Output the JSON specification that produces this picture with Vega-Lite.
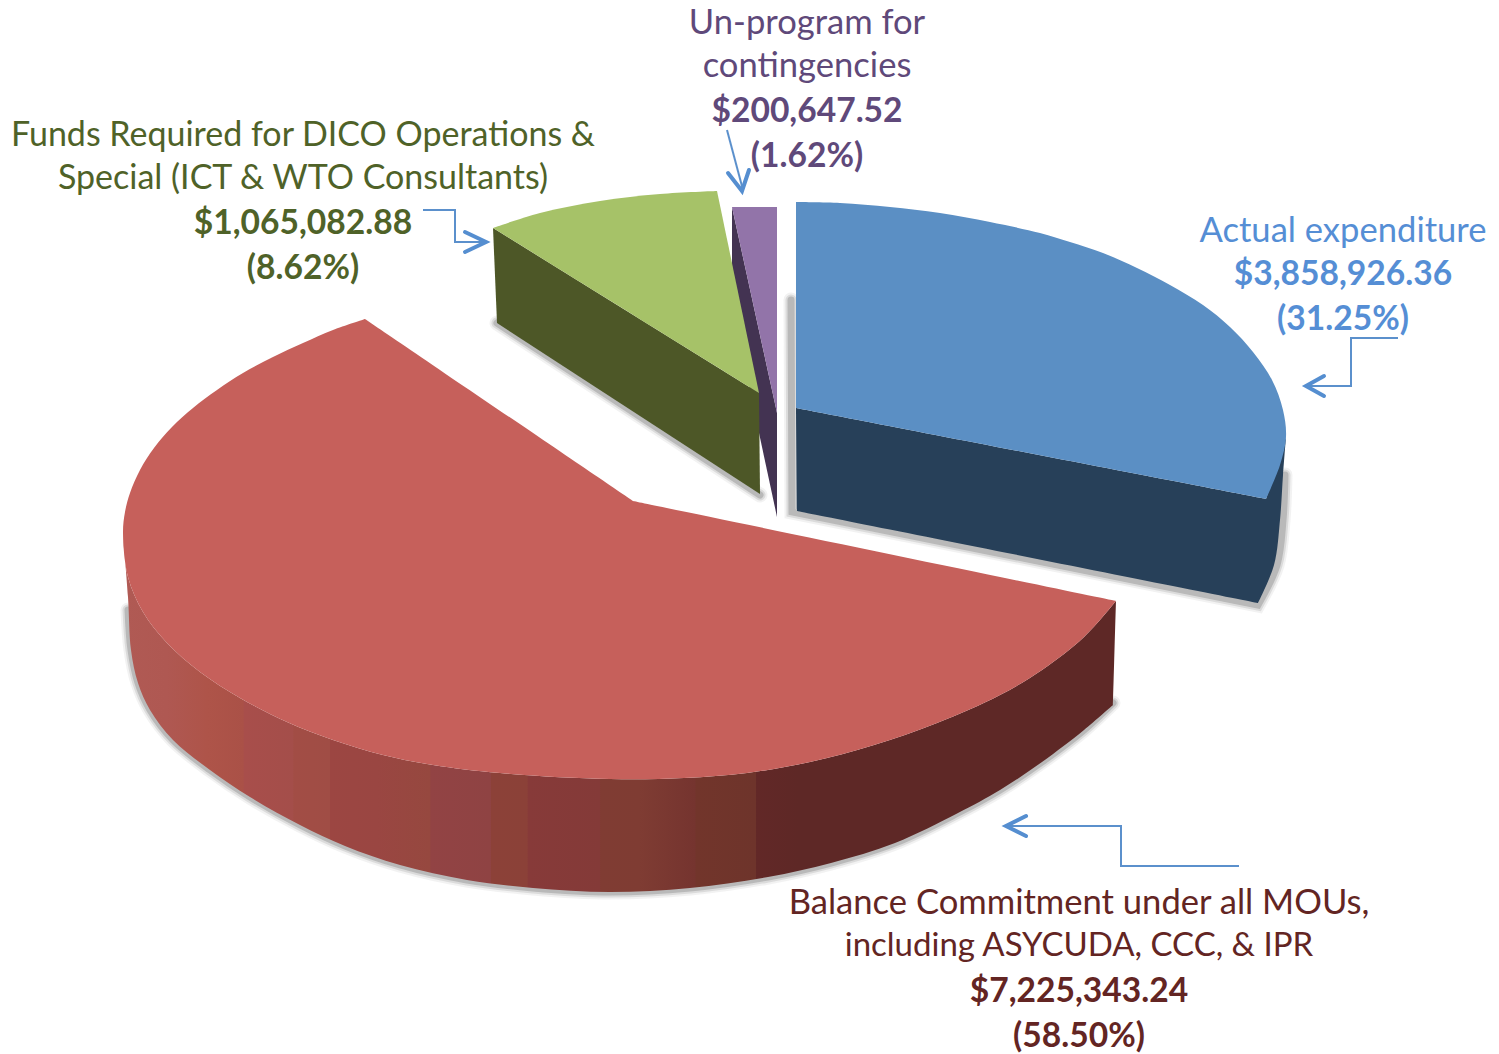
{"$schema":"https://vega.github.io/schema/vega-lite/v6.json","width":1499,"height":1054,"padding":0,"autosize":{"type":"fit","contains":"padding"},"background":"white","view":{"stroke":null},
"datasets":{
"shadow":[
{"path":"red","i":0,"x":128,"y":610},{"path":"red","i":1,"x":131,"y":650},{"path":"red","i":2,"x":138,"y":683},{"path":"red","i":3,"x":150,"y":710},{"path":"red","i":4,"x":173,"y":740},{"path":"red","i":5,"x":210,"y":770},{"path":"red","i":6,"x":250,"y":797},{"path":"red","i":7,"x":300,"y":825},{"path":"red","i":8,"x":345,"y":846},{"path":"red","i":9,"x":400,"y":865},{"path":"red","i":10,"x":467,"y":880},{"path":"red","i":11,"x":533,"y":888},{"path":"red","i":12,"x":610,"y":892},{"path":"red","i":13,"x":690,"y":888},{"path":"red","i":14,"x":768,"y":877},{"path":"red","i":15,"x":831,"y":863},{"path":"red","i":16,"x":895,"y":843},{"path":"red","i":17,"x":958,"y":813},{"path":"red","i":18,"x":1000,"y":790},{"path":"red","i":19,"x":1042,"y":762},{"path":"red","i":20,"x":1084,"y":730},{"path":"red","i":21,"x":1113,"y":703},
{"path":"blue","i":0,"x":791,"y":300},{"path":"blue","i":1,"x":792,"y":512},{"path":"blue","i":2,"x":792,"y":512},{"path":"blue","i":3,"x":1258,"y":605},{"path":"blue","i":4,"x":1258,"y":605},{"path":"blue","i":5,"x":1277,"y":565},{"path":"blue","i":6,"x":1283,"y":520},{"path":"blue","i":7,"x":1285,"y":475},
{"path":"green","i":0,"x":497,"y":323},{"path":"green","i":1,"x":760,"y":495}
],
"flatFaces":[
{"part":"Purple side","i":0,"x":732,"y":207},{"part":"Purple side","i":1,"x":777,"y":413},{"part":"Purple side","i":2,"x":777,"y":517},{"part":"Purple side","i":3,"x":732,"y":307},
{"part":"Purple top","i":0,"x":732,"y":207},{"part":"Purple top","i":1,"x":777,"y":207},{"part":"Purple top","i":2,"x":777,"y":413},
{"part":"Green side","i":0,"x":493,"y":228},{"part":"Green side","i":1,"x":759,"y":393},{"part":"Green side","i":2,"x":760,"y":494},{"part":"Green side","i":3,"x":497,"y":323}
],
"faces":[
{"part":"Red top","i":0,"x":633,"y":501},{"part":"Red top","i":1,"x":633,"y":501},{"part":"Red top","i":2,"x":1116,"y":601},{"part":"Red top","i":3,"x":1116,"y":601},{"part":"Red top","i":4,"x":1084,"y":637},{"part":"Red top","i":5,"x":1042,"y":670},{"part":"Red top","i":6,"x":1000,"y":695},{"part":"Red top","i":7,"x":937,"y":723},{"part":"Red top","i":8,"x":874,"y":745},{"part":"Red top","i":9,"x":810,"y":762},{"part":"Red top","i":10,"x":747,"y":773},{"part":"Red top","i":11,"x":684,"y":778},{"part":"Red top","i":12,"x":610,"y":779},{"part":"Red top","i":13,"x":500,"y":773},{"part":"Red top","i":14,"x":433,"y":765},{"part":"Red top","i":15,"x":383,"y":755},{"part":"Red top","i":16,"x":333,"y":740},{"part":"Red top","i":17,"x":287,"y":722},{"part":"Red top","i":18,"x":240,"y":698},{"part":"Red top","i":19,"x":200,"y":672},{"part":"Red top","i":20,"x":167,"y":643},{"part":"Red top","i":21,"x":143,"y":612},{"part":"Red top","i":22,"x":128,"y":577},{"part":"Red top","i":23,"x":123,"y":533},{"part":"Red top","i":24,"x":125,"y":512},{"part":"Red top","i":25,"x":130,"y":493},{"part":"Red top","i":26,"x":140,"y":470},{"part":"Red top","i":27,"x":154,"y":448},{"part":"Red top","i":28,"x":172,"y":427},{"part":"Red top","i":29,"x":193,"y":408},{"part":"Red top","i":30,"x":217,"y":390},{"part":"Red top","i":31,"x":243,"y":373},{"part":"Red top","i":32,"x":273,"y":357},{"part":"Red top","i":33,"x":303,"y":343},{"part":"Red top","i":34,"x":333,"y":330},{"part":"Red top","i":35,"x":365,"y":319},{"part":"Red top","i":36,"x":365,"y":319},{"part":"Red top","i":37,"x":633,"y":501},
{"part":"Green top","i":0,"x":493,"y":228},{"part":"Green top","i":1,"x":493,"y":228},{"part":"Green top","i":2,"x":540,"y":213},{"part":"Green top","i":3,"x":600,"y":201},{"part":"Green top","i":4,"x":660,"y":194},{"part":"Green top","i":5,"x":717,"y":191},{"part":"Green top","i":6,"x":717,"y":191},{"part":"Green top","i":7,"x":759,"y":393},{"part":"Green top","i":8,"x":759,"y":393},{"part":"Green top","i":9,"x":493,"y":228},
{"part":"Blue side","i":0,"x":796,"y":408},{"part":"Blue side","i":1,"x":796,"y":408},{"part":"Blue side","i":2,"x":1266,"y":499},{"part":"Blue side","i":3,"x":1266,"y":499},{"part":"Blue side","i":4,"x":1286,"y":437},{"part":"Blue side","i":5,"x":1286,"y":437},{"part":"Blue side","i":6,"x":1283,"y":475},{"part":"Blue side","i":7,"x":1280,"y":520},{"part":"Blue side","i":8,"x":1274,"y":565},{"part":"Blue side","i":9,"x":1258,"y":603},{"part":"Blue side","i":10,"x":1258,"y":603},{"part":"Blue side","i":11,"x":797,"y":511},{"part":"Blue side","i":12,"x":797,"y":511},{"part":"Blue side","i":13,"x":796,"y":408},
{"part":"Blue top","i":0,"x":796,"y":202},{"part":"Blue top","i":1,"x":796,"y":202},{"part":"Blue top","i":2,"x":840,"y":203},{"part":"Blue top","i":3,"x":890,"y":207},{"part":"Blue top","i":4,"x":940,"y":213},{"part":"Blue top","i":5,"x":990,"y":222},{"part":"Blue top","i":6,"x":1040,"y":233},{"part":"Blue top","i":7,"x":1070,"y":242},{"part":"Blue top","i":8,"x":1103,"y":253},{"part":"Blue top","i":9,"x":1137,"y":268},{"part":"Blue top","i":10,"x":1170,"y":285},{"part":"Blue top","i":11,"x":1203,"y":305},{"part":"Blue top","i":12,"x":1230,"y":327},{"part":"Blue top","i":13,"x":1253,"y":352},{"part":"Blue top","i":14,"x":1272,"y":380},{"part":"Blue top","i":15,"x":1283,"y":410},{"part":"Blue top","i":16,"x":1286,"y":437},{"part":"Blue top","i":17,"x":1280,"y":465},{"part":"Blue top","i":18,"x":1266,"y":499},{"part":"Blue top","i":19,"x":1266,"y":499},{"part":"Blue top","i":20,"x":796,"y":408},{"part":"Blue top","i":21,"x":796,"y":408},{"part":"Blue top","i":22,"x":796,"y":202}
],
"redSide":[
{"i":0,"x":123,"y":533},{"i":1,"x":123,"y":533},{"i":2,"x":128,"y":577},{"i":3,"x":143,"y":612},{"i":4,"x":167,"y":643},{"i":5,"x":200,"y":672},{"i":6,"x":240,"y":698},{"i":7,"x":287,"y":722},{"i":8,"x":333,"y":740},{"i":9,"x":383,"y":755},{"i":10,"x":433,"y":765},{"i":11,"x":500,"y":773},{"i":12,"x":610,"y":779},{"i":13,"x":684,"y":778},{"i":14,"x":747,"y":773},{"i":15,"x":810,"y":762},{"i":16,"x":874,"y":745},{"i":17,"x":937,"y":723},{"i":18,"x":1000,"y":695},{"i":19,"x":1042,"y":670},{"i":20,"x":1084,"y":637},{"i":21,"x":1116,"y":601},{"i":22,"x":1116,"y":601},{"i":23,"x":1113,"y":705},{"i":24,"x":1113,"y":705},{"i":25,"x":1084,"y":730},{"i":26,"x":1042,"y":762},{"i":27,"x":1000,"y":790},{"i":28,"x":958,"y":813},{"i":29,"x":895,"y":843},{"i":30,"x":831,"y":863},{"i":31,"x":768,"y":877},{"i":32,"x":690,"y":888},{"i":33,"x":610,"y":892},{"i":34,"x":533,"y":888},{"i":35,"x":467,"y":880},{"i":36,"x":400,"y":865},{"i":37,"x":345,"y":846},{"i":38,"x":300,"y":825},{"i":39,"x":250,"y":797},{"i":40,"x":210,"y":770},{"i":41,"x":173,"y":740},{"i":42,"x":150,"y":710},{"i":43,"x":138,"y":683},{"i":44,"x":131,"y":650},{"i":45,"x":128,"y":597},{"i":46,"x":123,"y":533}
],
"arrows":[
{"path":"p","i":0,"x":727,"y":130},{"path":"p","i":1,"x":743,"y":190},
{"path":"g","i":0,"x":423,"y":210},{"path":"g","i":1,"x":455,"y":210},{"path":"g","i":2,"x":455,"y":242},{"path":"g","i":3,"x":483,"y":242},
{"path":"b","i":0,"x":1398,"y":338},{"path":"b","i":1,"x":1351,"y":338},{"path":"b","i":2,"x":1351,"y":386},{"path":"b","i":3,"x":1308,"y":386},
{"path":"r","i":0,"x":1239,"y":866},{"path":"r","i":1,"x":1121,"y":866},{"path":"r","i":2,"x":1121,"y":826},{"path":"r","i":3,"x":1007,"y":826}
],
"heads":[
{"path":"p","i":0,"x":728,"y":173},{"path":"p","i":1,"x":742,"y":191},{"path":"p","i":2,"x":749,"y":170},
{"path":"g","i":0,"x":465,"y":232},{"path":"g","i":1,"x":486,"y":242},{"path":"g","i":2,"x":465,"y":252},
{"path":"b","i":0,"x":1324,"y":376},{"path":"b","i":1,"x":1306,"y":386},{"path":"b","i":2,"x":1324,"y":396},
{"path":"r","i":0,"x":1026,"y":816},{"path":"r","i":1,"x":1006,"y":826},{"path":"r","i":2,"x":1026,"y":836}
],
"regular":[
{"series":"Purple","x":807,"y":33.5,"label":"Un-program for"},{"series":"Purple","x":807,"y":76.5,"label":"contingencies"},
{"series":"Blue","x":1343,"y":241.5,"label":"Actual expenditure"},
{"series":"Red","x":1079,"y":913.5,"label":"Balance Commitment under all MOUs,"}
],
"regularMid":[
{"series":"Green","x":303,"y":145.5,"label":"Funds Required for DICO Operations &"},{"series":"Green","x":303,"y":188.5,"label":"Special (ICT & WTO Consultants)"}
],
"regularSmall":[
{"series":"Red","x":1079,"y":956,"label":"including ASYCUDA, CCC, & IPR"}
],
"bold":[
{"series":"Purple","x":807,"y":122,"label":"$200,647.52"},{"series":"Purple","x":807,"y":167,"label":"(1.62%)"},
{"series":"Green","x":303,"y":234,"label":"$1,065,082.88"},{"series":"Green","x":303,"y":279,"label":"(8.62%)"},
{"series":"Blue","x":1343,"y":285,"label":"$3,858,926.36"},{"series":"Blue","x":1343,"y":330,"label":"(31.25%)"},
{"series":"Red","x":1079,"y":1002,"label":"$7,225,343.24"},{"series":"Red","x":1079,"y":1047,"label":"(58.50%)"}
]},
"encoding":{
"x":{"field":"x","type":"quantitative","axis":null,"scale":{"domain":[0,1499],"nice":false,"zero":false}},
"y":{"field":"y","type":"quantitative","axis":null,"scale":{"domain":[1054,0],"nice":false,"zero":false}}
},
"layer":[
{"data":{"name":"shadow"},"mark":{"type":"line","interpolate":"catmull-rom","stroke":"#555555","strokeWidth":15,"opacity":0.08,"strokeCap":"round"},"encoding":{"detail":{"field":"path"},"order":{"field":"i"}}},
{"data":{"name":"shadow"},"mark":{"type":"line","interpolate":"catmull-rom","stroke":"#555555","strokeWidth":11,"opacity":0.14,"strokeCap":"round"},"encoding":{"detail":{"field":"path"},"order":{"field":"i"}}},
{"data":{"name":"shadow"},"mark":{"type":"line","interpolate":"catmull-rom","stroke":"#555555","strokeWidth":7,"opacity":0.25,"strokeCap":"round"},"encoding":{"detail":{"field":"path"},"order":{"field":"i"}}},
{"data":{"name":"redSide"},"mark":{"type":"line","interpolate":"catmull-rom","filled":true,"stroke":null,"fill":{"gradient":"linear","x1":0,"y1":0,"x2":1,"y2":0,"stops":[{"offset":0,"color":"#B05A54"},{"offset":0.044,"color":"#AF5852"},{"offset":0.085,"color":"#AE5449"},{"offset":0.121,"color":"#AA5147"},{"offset":0.122,"color":"#A84E4B"},{"offset":0.171,"color":"#A44E4A"},{"offset":0.172,"color":"#A24D45"},{"offset":0.208,"color":"#A04D45"},{"offset":0.209,"color":"#9C4642"},{"offset":0.256,"color":"#9A4642"},{"offset":0.309,"color":"#96483F"},{"offset":0.31,"color":"#924344"},{"offset":0.37,"color":"#8F4343"},{"offset":0.371,"color":"#8C4138"},{"offset":0.407,"color":"#8B4138"},{"offset":0.408,"color":"#873A39"},{"offset":0.48,"color":"#843A38"},{"offset":0.481,"color":"#803C33"},{"offset":0.52,"color":"#7F3C33"},{"offset":0.576,"color":"#75342F"},{"offset":0.577,"color":"#72352B"},{"offset":0.637,"color":"#6E342B"},{"offset":0.638,"color":"#622827"},{"offset":0.68,"color":"#5E2826"},{"offset":1,"color":"#5E2826"}]}},"encoding":{"order":{"field":"i"}}},
{"data":{"name":"flatFaces"},"mark":{"type":"line","filled":true,"stroke":null},"encoding":{"detail":{"field":"part"},"order":{"field":"i"},"color":{"field":"part","type":"nominal","legend":null,"sort":null,"scale":{"domain":["Purple side","Purple top","Green side"],"range":["#433352","#9274A9","#4D5727"]}}}},
{"data":{"name":"faces"},"mark":{"type":"line","interpolate":"catmull-rom","filled":true,"stroke":null},"encoding":{"detail":{"field":"part"},"order":{"field":"i"},"color":{"field":"part","type":"nominal","legend":null,"sort":null,"scale":{"domain":["Red top","Green top","Blue side","Blue top"],"range":["#C6605B","#A6C268","#274059","#5B8FC4"]}}}},
{"data":{"name":"arrows"},"mark":{"type":"line","stroke":"#5B90CC","strokeWidth":2},"encoding":{"detail":{"field":"path"},"order":{"field":"i"}}},
{"data":{"name":"heads"},"mark":{"type":"line","stroke":"#558ED0","strokeWidth":4,"strokeCap":"round","strokeJoin":"miter"},"encoding":{"detail":{"field":"path"},"order":{"field":"i"}}},
{"data":{"name":"regular"},"mark":{"type":"text","font":"Lato","fontSize":34.6,"align":"center","baseline":"alphabetic"},"encoding":{"text":{"field":"label"},"color":{"field":"series","type":"nominal","legend":null,"scale":{"domain":["Purple","Green","Blue","Red"],"range":["#5F497A","#4F6228","#558ED5","#632523"]}}}},
{"data":{"name":"regularMid"},"mark":{"type":"text","font":"Lato","fontSize":34,"align":"center","baseline":"alphabetic"},"encoding":{"text":{"field":"label"},"color":{"field":"series","type":"nominal","legend":null,"scale":{"domain":["Purple","Green","Blue","Red"],"range":["#5F497A","#4F6228","#558ED5","#632523"]}}}},
{"data":{"name":"regularSmall"},"mark":{"type":"text","font":"Lato","fontSize":33,"align":"center","baseline":"alphabetic"},"encoding":{"text":{"field":"label"},"color":{"field":"series","type":"nominal","legend":null,"scale":{"domain":["Purple","Green","Blue","Red"],"range":["#5F497A","#4F6228","#558ED5","#632523"]}}}},
{"data":{"name":"bold"},"mark":{"type":"text","font":"Lato","fontSize":33.6,"fontWeight":"bold","align":"center","baseline":"alphabetic"},"encoding":{"text":{"field":"label"},"color":{"field":"series","type":"nominal","legend":null,"scale":{"domain":["Purple","Green","Blue","Red"],"range":["#5F497A","#4F6228","#558ED5","#632523"]}}}}
],
"resolve":{"scale":{"color":"independent"}}
}
